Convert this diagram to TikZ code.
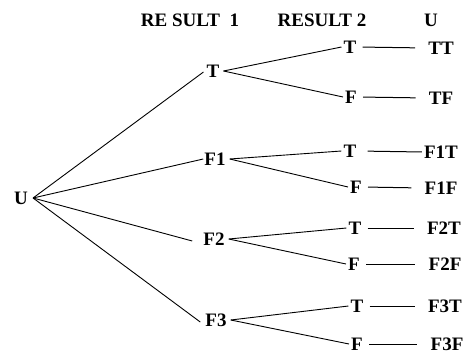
\documentclass[tikz,border=0pt]{standalone}
\usepackage{fontspec}
\setmainfont{Liberation Serif}
\begin{document}
\begin{tikzpicture}[x=1pt,y=-1pt,
  lbl/.style={font=\fontsize{19}{19}\selectfont\bfseries, inner sep=1pt, text height=13pt, text depth=0pt},
  br/.style={line width=0.9pt},
  tail/.style={line width=1pt, shorten <=5pt, shorten >=12pt}]
\useasboundingbox (0,0) rectangle (474,356);
\node[lbl] (h1) at (190,20) {RE SULT\ \ 1};
\node[lbl] (h2) at (322,20) {RESULT 2};
\node[lbl] (h3) at (431,20) {U};
\node[lbl] (u) at (21,198) {U};
\node[lbl] (a) at (213,71) {T};
\node[lbl] (b) at (215,159) {F1};
\node[lbl] (c) at (214,239) {F2};
\node[lbl] (d) at (216,320) {F3};
\node[lbl] (aT) at (350,47) {T};
\node[lbl] (aF) at (351,97) {F};
\node[lbl] (bT) at (350,151) {T};
\node[lbl] (bF) at (356,187) {F};
\node[lbl] (cT) at (355,228) {T};
\node[lbl] (cF) at (354,264) {F};
\node[lbl] (dT) at (357,306) {T};
\node[lbl] (dF) at (357,344) {F};
\node[lbl] (l1) at (441,48) {TT};
\node[lbl] (l2) at (441,98) {TF};
\node[lbl] (l3) at (441,152) {F1T};
\node[lbl] (l4) at (441,188) {F1F};
\node[lbl] (l5) at (444,228) {F2T};
\node[lbl] (l6) at (445,264) {F2F};
\node[lbl] (l7) at (445,306) {F3T};
\node[lbl] (l8) at (447,344) {F3F};
\coordinate (uo) at ([xshift=4pt]u.east);
\draw[br] (uo) -- ([shift={(-2,1)}]a.west);
\draw[br] (uo) -- (b.west);
\draw[br] (uo) -- ([xshift=-10pt,yshift=-2pt]c.west);
\draw[br] (uo) -- ([xshift=-4pt,yshift=-2pt]d.west);
\foreach \p/\q/\r in {a/aT/aF, b/bT/bF, c/cT/cF, d/dT/dF} {
  \coordinate (\p o) at ([xshift=3pt]\p.east);
  \draw[br] (\p o) -- ([xshift=-1pt]\q.west);
  \draw[br] (\p o) -- ([xshift=-1pt]\r.west);
}
\draw[tail] (aT.east) -- (l1.west);
\draw[tail] (aF.east) -- (l2.west);
\draw[line width=1pt, shorten <=10pt, shorten >=1pt] (bT.east) -- (l3.west);
\draw[tail] (bF.east) -- (l4.west);
\draw[tail] (cT.east) -- (l5.west);
\draw[tail] (cF.east) -- (l6.west);
\draw[tail] (dT.east) -- (l7.west);
\draw[tail] (dF.east) -- (l8.west);
\end{tikzpicture}
\end{document}
